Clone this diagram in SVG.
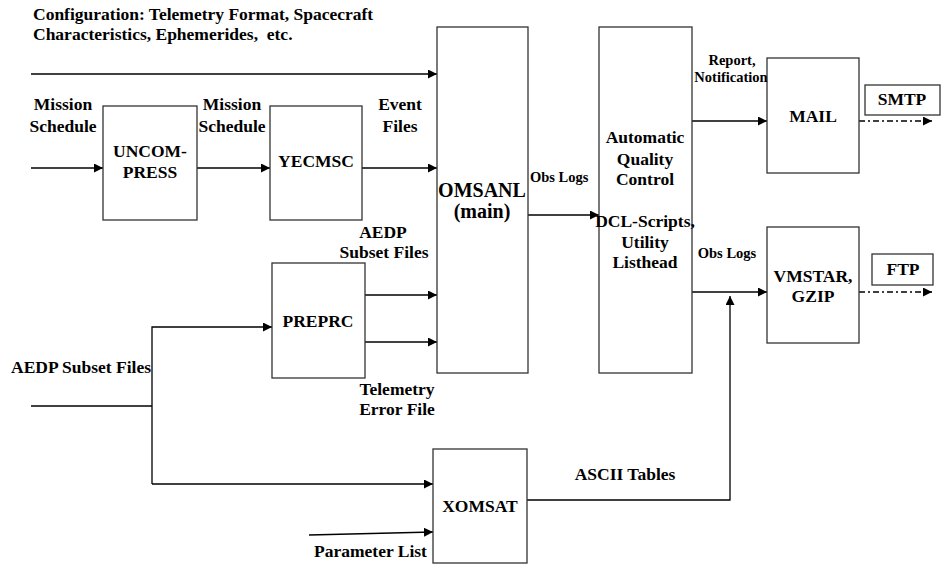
<svg xmlns="http://www.w3.org/2000/svg" width="944" height="565" viewBox="0 0 944 565">
<style>
text{font-family:"Liberation Serif",Tinos,"Times New Roman",Times,"DejaVu Serif",serif;font-weight:bold;font-size:17.5px;fill:#000}
.c{text-anchor:middle}
.s{font-size:14.5px}
.big{font-size:20px}
.box{fill:#fff;stroke:#333;stroke-width:1.3}
.ln{fill:none;stroke:#000;stroke-width:1.3}
.dd{stroke-dasharray:6,3,2,3}
</style>
<defs>
<marker id="ah" markerUnits="userSpaceOnUse" markerWidth="10" markerHeight="10" refX="9" refY="4.5" orient="auto">
<path d="M0,0 L9,4.5 L0,9 Z" fill="#000"/>
</marker>
</defs>
<rect width="944" height="565" fill="#fff"/>
<text x="33" y="20">Configuration: Telemetry Format, Spacecraft</text>
<text x="33" y="40">Characteristics, Ephemerides,&#160; etc.</text>
<g id="connectors">
<line class="ln" x1="31" y1="74" x2="437" y2="74" marker-end="url(#ah)"/>
<line class="ln" x1="31" y1="168" x2="103" y2="168" marker-end="url(#ah)"/>
<line class="ln" x1="197" y1="168" x2="270" y2="168" marker-end="url(#ah)"/>
<line class="ln" x1="362" y1="168" x2="437" y2="168" marker-end="url(#ah)"/>
<line class="ln" x1="365" y1="295" x2="437" y2="295" marker-end="url(#ah)"/>
<line class="ln" x1="365" y1="342" x2="437" y2="342" marker-end="url(#ah)"/>
<line class="ln" x1="528" y1="215" x2="599" y2="215" marker-end="url(#ah)"/>
<line class="ln" x1="692" y1="121" x2="767" y2="121" marker-end="url(#ah)"/>
<line class="ln" x1="692" y1="292" x2="767" y2="292" marker-end="url(#ah)"/>
<line class="ln dd" x1="859" y1="121" x2="932" y2="121" marker-end="url(#ah)"/>
<line class="ln dd" x1="859" y1="292" x2="932" y2="292" marker-end="url(#ah)"/>
<line class="ln" x1="31" y1="406" x2="152" y2="406"/>
<path class="ln" d="M152,484 V327 H272" marker-end="url(#ah)"/>
<path class="ln" d="M152,484 H433" marker-end="url(#ah)"/>
<line class="ln" x1="309" y1="535" x2="433" y2="532" marker-end="url(#ah)"/>
<path class="ln" d="M527,500 H730 V296" marker-end="url(#ah)"/>
</g>
<g id="uncompress">
<rect class="box" x="103" y="106" width="94" height="114"/>
<text class="c" x="150" y="157">UNCOM-</text>
<text class="c" x="150" y="178">PRESS</text>
</g>
<g id="yecmsc">
<rect class="box" x="270" y="106" width="92" height="114"/>
<text class="c" x="316" y="167">YECMSC</text>
</g>
<g id="omsanl">
<rect class="box" x="437" y="27" width="91" height="346"/>
<text class="c big" x="482" y="197">OMSANL</text>
<text class="c big" x="482" y="218">(main)</text>
</g>
<g id="qc">
<rect class="box" x="599" y="27" width="93" height="346"/>
<text class="c" x="645" y="143">Automatic</text>
<text class="c" x="645" y="165">Quality</text>
<text class="c" x="645" y="185">Control</text>
<text class="c" x="645" y="227">DCL-Scripts,</text>
<text class="c" x="645" y="248">Utility</text>
<text class="c" x="645" y="268">Listhead</text>
</g>
<g id="mail">
<rect class="box" x="767" y="58" width="92" height="115"/>
<text class="c" x="813" y="122">MAIL</text>
</g>
<g id="smtp">
<rect class="box" x="865" y="85" width="75" height="30"/>
<text class="c" x="902" y="105">SMTP</text>
</g>
<g id="vmstar">
<rect class="box" x="767" y="227" width="92" height="116"/>
<text class="c" x="813" y="282">VMSTAR,</text>
<text class="c" x="813" y="302">GZIP</text>
</g>
<g id="ftp">
<rect class="box" x="872" y="254" width="61" height="31"/>
<text class="c" x="903" y="275">FTP</text>
</g>
<g id="preprc">
<rect class="box" x="272" y="263" width="93" height="115"/>
<text class="c" x="318" y="327">PREPRC</text>
</g>
<g id="xomsat">
<rect class="box" x="433" y="449" width="94" height="114"/>
<text class="c" x="480" y="512">XOMSAT</text>
</g>
<g id="labels">
<text class="c" x="63" y="110">Mission</text>
<text class="c" x="63" y="132">Schedule</text>
<text class="c" x="232" y="110">Mission</text>
<text class="c" x="232" y="132">Schedule</text>
<text class="c" x="400" y="110">Event</text>
<text class="c" x="400" y="132">Files</text>
<text class="s" x="530" y="182">Obs Logs</text>
<text class="c s" x="732" y="65">Report,</text>
<text class="c s" x="731" y="82">Notification</text>
<text class="c s" x="727" y="258">Obs Logs</text>
<text class="c" x="383" y="238">AEDP</text>
<text class="c" x="384" y="258">Subset Files</text>
<text x="11" y="373">AEDP Subset Files</text>
<text class="c" x="397" y="395">Telemetry</text>
<text class="c" x="397" y="415">Error File</text>
<text class="c" x="625" y="480">ASCII Tables</text>
<text x="314" y="557">Parameter List</text>
</g>
</svg>
